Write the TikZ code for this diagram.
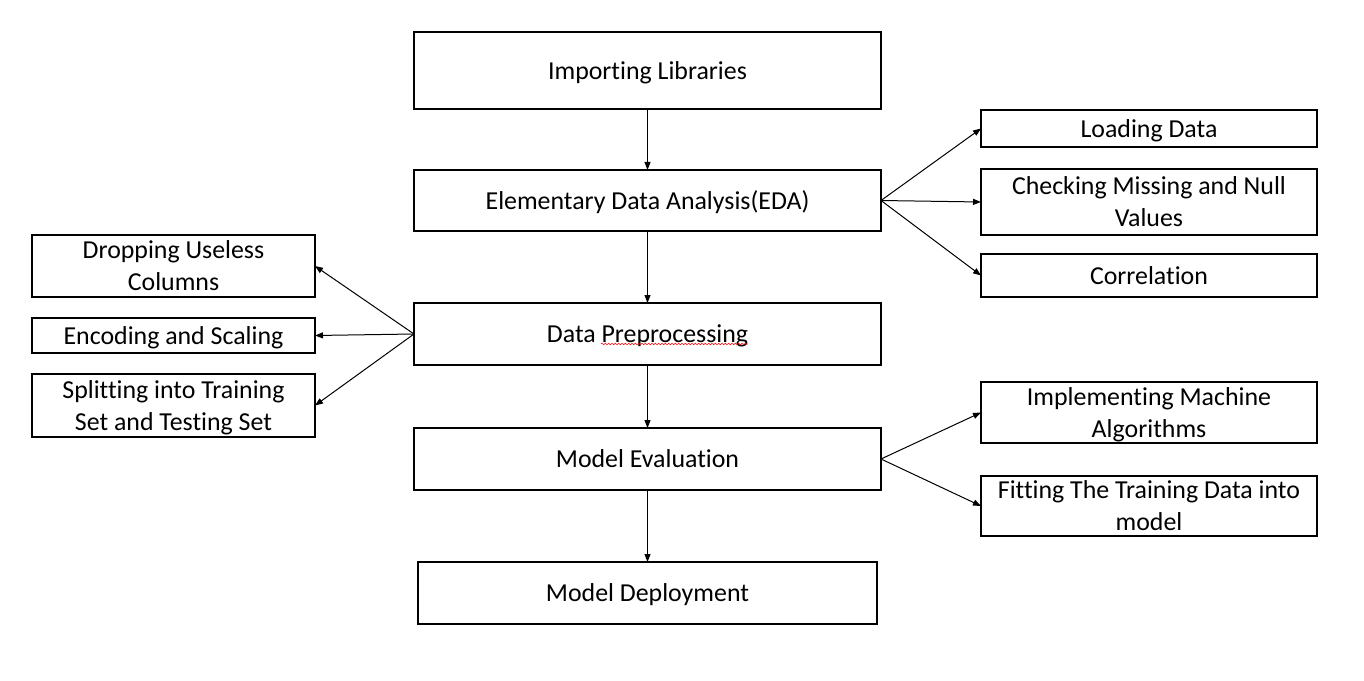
\documentclass[tikz,border=0pt]{standalone}
\usepackage{fontspec}
\setmainfont{Carlito}[Ligatures=NoCommon]
\usepackage{tikz}
\usetikzlibrary{arrows.meta, positioning, decorations.pathmorphing}
\newcommand{\boxstrut}{\rule[-4pt]{0pt}{21pt}}

\begin{document}
\begin{tikzpicture}[x=0.75pt, y=-0.75pt]
\tikzstyle{stage} = [rectangle, draw=black, line width=1pt, inner sep=0pt, outer sep=0pt, text width=350.25pt, minimum height=46.5pt, align=flush center, font=\fontsize{19.4}{24}\selectfont, execute at begin node=\boxstrut, execute at end node=\boxstrut]
\tikzstyle{side} = [stage, text width=252pt]
\tikzstyle{prep} = [stage, text width=212.25pt]
\tikzstyle{arrow} = [line width=0.75pt, -{Triangle[length=6pt, width=4.5pt]}]

\useasboundingbox (0,0) rectangle (1364,681);

% main column
\node (lib) [stage, minimum height=57.75pt] at (647.5,70.5) {Importing Libraries};
\node (eda) [stage, minimum height=45.75pt, below=45.75pt of lib] {Elementary Data Analysis(EDA)};
\node (pre) [stage, below=54pt of eda] {Data Preprocessing};
\node (eval) [stage, below=47.25pt of pre] {Model Evaluation};
\node (deploy) [stage, text width=344.25pt, below=54pt of eval] {Model Deployment};

% right column
\node (load) [side, minimum height=27.75pt] at (1149,128.5) {Loading Data};
\node (check) [side, minimum height=49.5pt] at (1149,202) {Checking Missing and Null\\Values};
\node (corr) [side, minimum height=32.25pt] at (1149,275.5) {Correlation};
\node (impl) [side, minimum height=45.75pt] at (1149,412.5) {Implementing Machine\\Algorithms};
\node (fit) [side, minimum height=45pt] at (1149,506) {Fitting The Training Data into\\model};

% left column
\node (drop) [prep] at (173.5,266) {Dropping Useless\\Columns};
\node (enc) [prep, minimum height=26.25pt] at (173.5,335.5) {Encoding and Scaling};
\node (split) [prep, minimum height=47.25pt] at (173.5,405.5) {Splitting into Training\\Set and Testing Set};

\draw [arrow] (lib) -- (eda);
\draw [arrow] (eda) -- (pre);
\draw [arrow] (pre) -- (eval);
\draw [arrow] (eval) -- (deploy);

\draw [arrow] (eda.east) -- (load.west);
\draw [arrow] (eda.east) -- (check.west);
\draw [arrow] (eda.east) -- (corr.west);

\draw [arrow] (pre.west) -- (drop.east);
\draw [arrow] (pre.west) -- (enc.east);
\draw [arrow] (pre.west) -- (split.east);

\draw [arrow] (eval.east) -- (impl.west);
\draw [arrow] (eval.east) -- (fit.west);

% spell-check squiggle
\draw [red, line width=0.4pt, decorate, decoration={snake, segment length=2.5pt, amplitude=0.6pt}] (601,344) -- (748,344);
\end{tikzpicture}
\end{document}
